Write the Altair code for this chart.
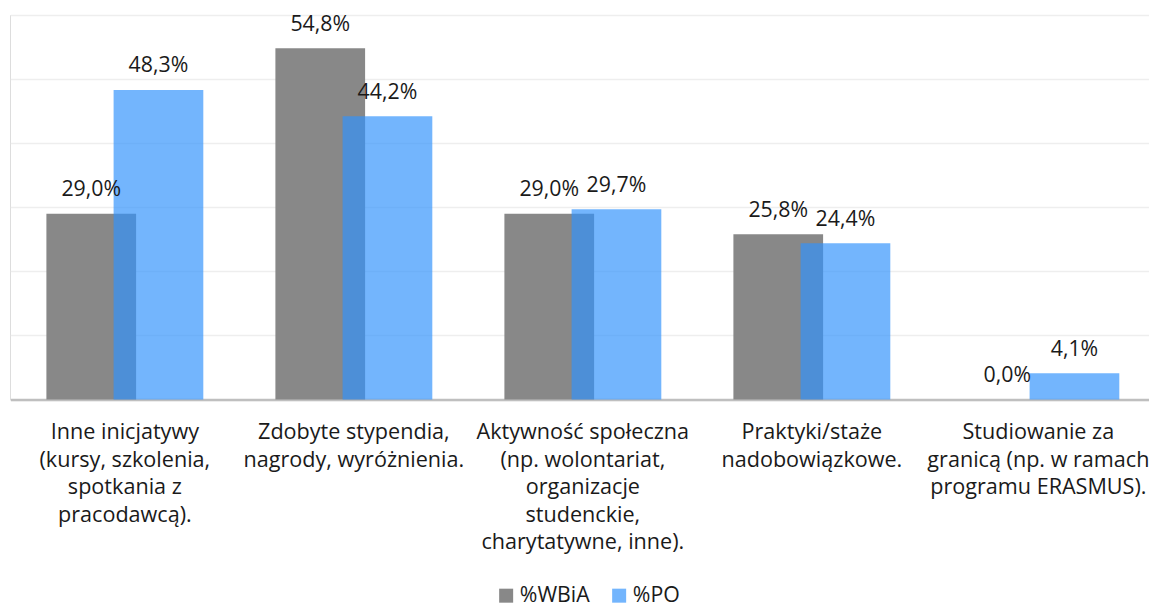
import altair as alt
import pandas as pd

categories = [
    "Inne inicjatywy\n(kursy, szkolenia,\nspotkania z\npracodawcą).",
    "Zdobyte stypendia,\nnagrody, wyróżnienia.",
    "Aktywność społeczna\n(np. wolontariat,\norganizacje\nstudenckie,\ncharytatywne, inne).",
    "Praktyki/staże\nnadobowiązkowe.",
    "Studiowanie za\ngranicą (np. w ramach\nprogramu ERASMUS).",
]
series = ["%WBiA", "%PO"]
wbia = [29.0, 54.8, 29.0, 25.8, 0.0]
po = [48.3, 44.2, 29.7, 24.4, 4.1]
colors = ["#888888", "rgba(48,146,252,0.68)"]

rows = []
for c, v in zip(categories, wbia):
    rows.append({"cat": c, "series": series[0], "value": v})
for c, v in zip(categories, po):
    rows.append({"cat": c, "series": series[1], "value": v})
df = pd.DataFrame(rows)

FONT = "Open Sans"
TXT = "#1a1a1a"

x = alt.X(
    "cat:N",
    sort=categories,
    scale=alt.Scale(paddingInner=0, paddingOuter=0, range=[0.35, 1145.35]),
    axis=alt.Axis(
        title=None,
        labelExpr="split(datum.label, '\\n')",
        labelFont=FONT,
        labelFontSize=21.6,
        labelLineHeight=27.5,
        labelColor=TXT,
        labelPadding=22,
        labelOffset={"condition": {"test": "datum.index == 1", "value": -2.5}, "value": 0},
        labelLimit=0,
        labelAngle=0,
        labelOverlap=False,
        labelBound=False,
        labelFlush=False,
        ticks=False,
        domainColor="#BFBFBF",
        domainWidth=2.5,
        grid=False,
    ),
)
y = alt.Y(
    "value:Q",
    scale=alt.Scale(domain=[0, 60], nice=False),
    axis=alt.Axis(
        title=None,
        labels=False,
        ticks=False,
        domain=False,
        values=[0, 10, 20, 30, 40, 50, 60],
        grid=True,
        gridColor="#EEEEEE",
        gridWidth=1.5,
    ),
)
color = alt.Color(
    "series:N",
    scale=alt.Scale(domain=series, range=colors),
    legend=alt.Legend(
        title=None,
        orient="none",
        direction="horizontal",
        legendX=485.5,
        legendY=570,
        symbolType="square",
        symbolSize=196,
        symbolStrokeWidth=0,
        labelFont=FONT,
        labelFontSize=21.3,
        labelColor=TXT,
        labelOffset=3,
        columnPadding=18,
        padding=0,
    ),
)

base = alt.Chart(df).transform_calculate(
    label="replace(format(datum.value, '.1f'), '.', ',') + '%'"
)

offsets = {series[0]: -33.6, series[1]: 33.6}
layers = []
for s in series:
    part = base.transform_filter(alt.datum.series == s)
    layers.append(
        part.mark_bar(width=89.7, xOffset=offsets[s]).encode(x=x, y=y, color=color)
    )
for s in series:
    part = base.transform_filter(alt.datum.series == s)
    layers.append(
        part.mark_text(
            xOffset=offsets[s], dy=-17.6, baseline="alphabetic",
            font=FONT, fontSize=21.3, color=TXT,
        ).encode(x=x, y=y, text="label:N")
    )

chart = alt.layer(*layers).properties(
    width=1139,
    height=384.5,
    padding={"left": 2, "top": 7, "right": 0, "bottom": 209},
    autosize=alt.AutoSizeParams(type="none"),
).configure_view(stroke=None).configure(background="white")

chart.save("out.html", embed_options={"renderer": "svg", "actions": False})
